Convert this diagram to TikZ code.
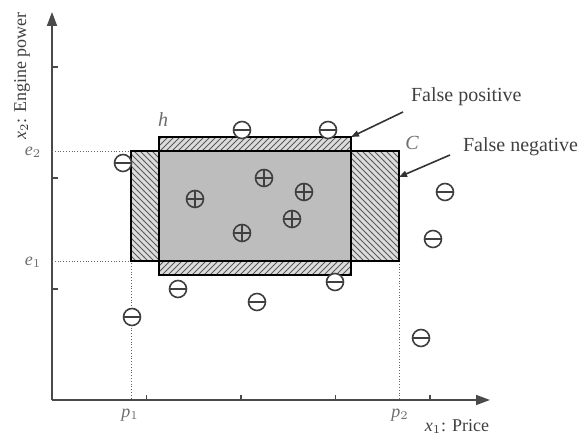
\documentclass[tikz,border=0pt]{standalone}
\usepackage{fontspec}
\setmainfont{Liberation Serif}
\usetikzlibrary{arrows.meta,patterns}
\definecolor{boxgray}{HTML}{BDBDBD}
\definecolor{hatchbg}{HTML}{DCDCDC}
\definecolor{axisgray}{HTML}{4A4A4A}
\definecolor{lblgray}{HTML}{6E6E6E}

\begin{document}
\begin{tikzpicture}[x=5pt,y=5pt,
  negpt/.style={circle,draw=black!75,fill=white,thick,minimum size=8.5pt,inner sep=0pt,
    path picture={\draw[black!75,thick] (path picture bounding box.west) -- (path picture bounding box.east);}},
  pospt/.style={circle,draw=black!75,thick,minimum size=8.5pt,inner sep=0pt,
    path picture={\draw[black!75,thick] (path picture bounding box.west) -- (path picture bounding box.east)
      (path picture bounding box.north) -- (path picture bounding box.south);}},
  lbl/.style={font=\small\itshape,lblgray}]
  \useasboundingbox (-5.2,-3.7) rectangle (52.7,40);

  % axes
  \coordinate (O) at (0,0);
  \coordinate (xend) at (43.8,0);
  \coordinate (yend) at (0,38.8);
  \draw[axisgray,thick,-{Triangle[length=7pt,width=5pt]}] (O) -- (xend);
  \draw[axisgray,thick,-{Triangle[length=7pt,width=5pt]}] (O) -- (yend);
  \foreach \i in {1,...,4}
    \draw[axisgray,thick] (\i*9.45,0) -- (\i*9.45,0.5);
  \foreach \j in {1,2,3}
    \draw[axisgray,thick] (0,\j*11.1) -- (0.6,\j*11.1);

  % dotted guides
  \draw[black!60,densely dotted] (0,24.9) -- (7.9,24.9);
  \draw[black!60,densely dotted] (0,13.9) -- (7.9,13.9) -- (7.9,0);
  \draw[black!60,densely dotted] (34.7,13.9) -- (34.7,0);

  % regions
  \fill[boxgray] (10.7,13.9) rectangle (29.9,24.9);
  \foreach \a/\b/\c/\d/\pat in {10.7/24.9/29.9/26.3/north east lines,
                               10.7/12.5/29.9/13.9/north east lines,
                               7.9/13.9/10.7/24.9/north west lines,
                               29.9/13.9/34.7/24.9/north west lines}{
    \fill[hatchbg] (\a,\b) rectangle (\c,\d);
    \fill[pattern=\pat,pattern color=black!65] (\a,\b) rectangle (\c,\d);
  }
  \draw[thick] (7.9,13.9) rectangle (34.7,24.9);
  \draw[thick] (10.7,12.5) rectangle (29.9,26.3);
  \coordinate (hcorner) at (29.9,26.3);
  \coordinate (cside) at (34.7,22.3);

  % labels
  \node[lbl] (e2) at (-1.9,24.8) {e$_2$};
  \node[lbl] (e1) at (-1.9,13.8) {e$_1$};
  \node[lbl] (p1) at (7.8,-1.5) {p$_1$};
  \node[lbl] (p2) at (34.8,-1.5) {p$_2$};
  \node[font=\small,black!75] (xlab) at (40.5,-2.7) {\textit{x}$_1$: Price};
  \node[font=\small,black!75,rotate=90] (ylab) at (-3.0,32.4) {\textit{x}$_2$: Engine power};
  \node[lbl,font=\normalsize\itshape] (hlab) at (11.1,28) {h};
  \node[lbl,font=\normalsize\itshape] (clab) at (36,25.7) {C};
  \node[black!75,anchor=west] (fp) at (35.2,30.3) {False positive};
  \node[black!75,anchor=west] (fn) at (40.4,25.3) {False negative};
  \draw[black!80,thick,-{Triangle[length=4pt,width=3pt]}] (35.1,28.8) -- (hcorner);
  \draw[black!80,thick,-{Triangle[length=4pt,width=3pt]}] (39.8,24.5) -- (cside);

  % examples
  \foreach \x/\y [count=\k] in {19.0/27.0, 27.6/27.0, 7.1/23.7, 39.3/20.8, 38.1/16.1,
                               36.9/6.2, 12.6/11.1, 8.0/8.3, 28.3/11.8, 20.5/9.8}
    \node[negpt] (neg\k) at (\x,\y) {};
  \foreach \x/\y [count=\k] in {14.3/20.1, 21.2/22.2, 25.2/20.8, 24.0/18.1, 19.0/16.7}
    \node[pospt] (pos\k) at (\x,\y) {};
\end{tikzpicture}
\end{document}
